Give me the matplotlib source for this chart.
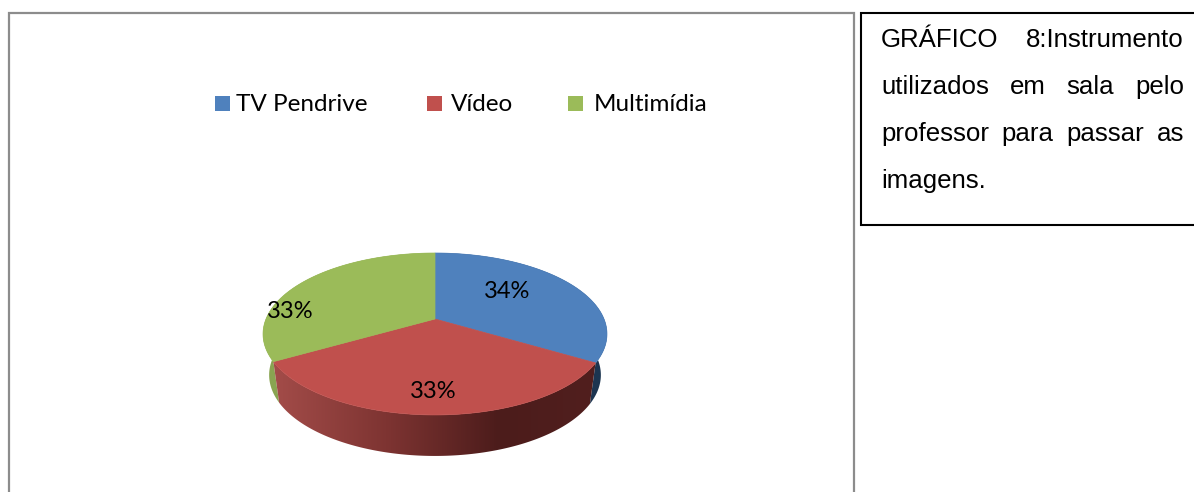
import numpy as np
import matplotlib
matplotlib.use("Agg")
import matplotlib.pyplot as plt
from matplotlib.patches import Polygon, Rectangle

categories = ["TV Pendrive", "Vídeo", "Multimídia"]
shares = [33.5, 33.25, 33.25]
pct_labels = ["34%", "33%", "33%"]
caption_lines = ["GRÁFICO 8:Instrumento", "utilizados em sala pelo", "professor para passar as", "imagens."]

colors = ["#4F81BD", "#C0504D", "#9BBB59"]
W, H = 1194, 492

fig = plt.figure(figsize=(W / 100, H / 100), dpi=100)
ax = fig.add_axes([0, 0, 1, 1])
ax.set_xlim(0, W)
ax.set_ylim(H, 0)
ax.axis("off")

# pie tilted with a bit of perspective, apex sits above the ellipse centre
CX, CY = 435, 319
P = 0.185


def top_pt(t):
    x, y = np.sin(t), np.cos(t)
    s = 1 / (1 + P * y)
    return CX + 169 * x * s, CY - 78.2 * y * s


def bottom_pt(t):
    x, y = np.sin(t), np.cos(t)
    s = 1 / (1 + P * y)
    return CX + 163 * x * s, CY + 41 - 78.2 * y * s


edges = np.radians(np.cumsum([0] + shares) * 3.6)

# side wall first, top face covers the back part
wall_cmaps = [
    ([0, 1], ["#24405F", "#1C3550"]),
    ([0, 0.35, 0.7, 1], ["#A34C49", "#7E3432", "#4C1C1B", "#511F1E"]),
    ([0, 1], ["#8AA552", "#85A04E"]),
]
for i in [0, 2, 1]:
    t = np.linspace(edges[i], edges[i + 1], 200)
    tx, ty = top_pt(t)
    bx, by = bottom_pt(t)
    pts = np.vstack([np.column_stack([tx, ty]), np.column_stack([bx, by])[::-1]])
    poly = Polygon(pts, closed=True, fc="none", ec="none", transform=ax.transData)
    ax.add_patch(poly)
    stops, cols = wall_cmaps[i]
    cmap = matplotlib.colors.LinearSegmentedColormap.from_list("w%d" % i, list(zip(stops, cols)))
    grad = np.linspace(0, 1, 256).reshape(1, -1)
    extent = [pts[:, 0].min(), pts[:, 0].max(), pts[:, 1].max(), pts[:, 1].min()]
    im = ax.imshow(grad, cmap=cmap, extent=extent, aspect="auto", zorder=2)
    im.set_clip_path(poly)

ax.set_xlim(0, W)
ax.set_ylim(H, 0)

for i in range(3):
    t = np.linspace(edges[i], edges[i + 1], 200)
    tx, ty = top_pt(t)
    pts = np.column_stack([np.r_[CX, tx], np.r_[CY, ty]])
    ax.add_patch(Polygon(pts, closed=True, fc=colors[i], ec=colors[i], lw=0.5, zorder=3))

label_xy = [(507, 292), (433, 391), (290, 312)]
for lab, (x, y) in zip(pct_labels, label_xy):
    ax.text(x, y, lab, family="Lato", fontsize=17, color="black", ha="center", va="center", zorder=5)

# legend
box_x = [215, 427, 568]
text_x = [236, 451, 594]
for name, c, bx, tx in zip(categories, colors, box_x, text_x):
    ax.add_patch(Rectangle((bx, 96), 14.5, 14.5, fc=c, ec="none"))
    ax.text(tx, 104.5, name, family="Lato", fontsize=17.5, color="black", ha="left", va="center")

# frames
ax.plot([8.5, 8.5, 854, 854], [H + 2, 12.5, 12.5, H + 2], color="#8C8C8C", lw=1.6, solid_joinstyle="miter")
ax.plot([W + 2, 860.5, 860.5, W + 2], [12.5, 12.5, 225, 225], color="black", lw=1.5, solid_joinstyle="miter")

# justified caption, word by word
renderer = fig.canvas.get_renderer()
LEFT, RIGHT = 881, 1184
base_y = [47, 94, 141, 188]
for n, line in enumerate(caption_lines):
    words = line.split()
    items = [ax.text(0, base_y[n], w, family="Liberation Sans", fontsize=18.6, color="black",
                     ha="left", va="baseline") for w in words]
    widths = [it.get_window_extent(renderer).width for it in items]
    if n < len(caption_lines) - 1:
        gap = (RIGHT - LEFT - sum(widths)) / (len(words) - 1)
    else:
        gap = 6
    x = LEFT
    for it, w in zip(items, widths):
        it.set_x(x)
        x += w + gap

fig.savefig("out.png", dpi=100)
